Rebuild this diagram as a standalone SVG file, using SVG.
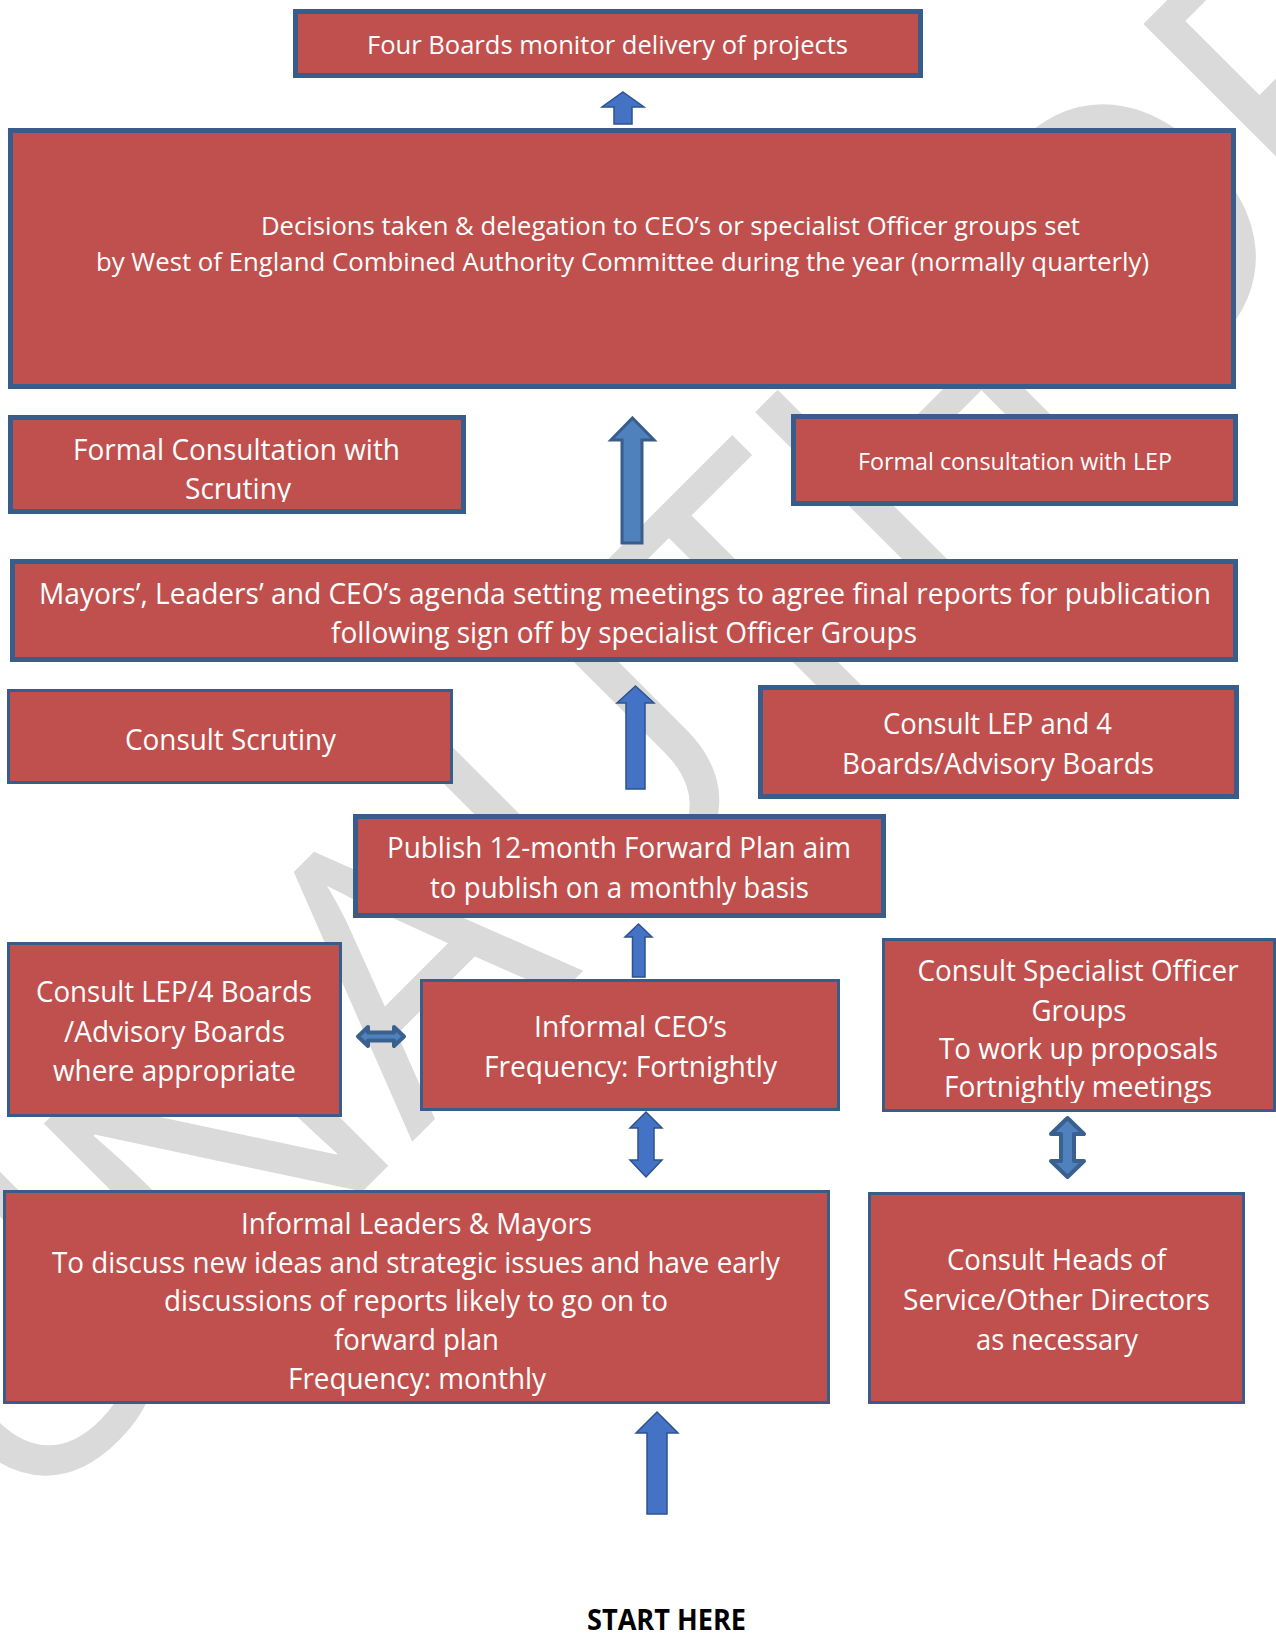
<svg xmlns="http://www.w3.org/2000/svg" width="1276" height="1635" viewBox="0 0 1276 1635">
<style>
.box{fill:#C0504D;stroke:#385D8A;stroke-width:5}
.thin{stroke-width:3}
.lbl{fill:#FFFFFF;font-family:"Open Sans","Noto Sans",sans-serif;text-anchor:middle}
.s32{font-size:28.5px}
.s29{font-size:26px}
.s27{font-size:23.8px}
.arr{fill:#4472C4;stroke:#2F528F;stroke-width:1.5;stroke-linejoin:miter}
.arr2{fill:#4F81BD;stroke:#385D8A;stroke-width:3}
.arr3{fill:#4F81BD;stroke:#3A6090;stroke-width:4;stroke-linejoin:round}
.start{fill:#000000;font-family:"Open Sans","Noto Sans",sans-serif;font-weight:bold;font-size:28.5px;text-anchor:middle}
.wm{fill:#DADADA;font-family:"Open Sans","Noto Sans",sans-serif;font-weight:400;font-size:383px}
</style>
<defs>
<clipPath id="clip3"><rect x="0" y="400" width="480" height="102"/></clipPath>
<clipPath id="clip11"><rect x="880" y="930" width="396" height="173"/></clipPath>
</defs>
<rect x="0" y="0" width="1276" height="1635" fill="#FFFFFF"/>

<g id="watermark">
<text class="wm" transform="translate(20.5,1533.5) rotate(-45)" x="-3 269 554 795 1073 1275 1539 1824 2043 2159 2359 2558" y="0">UNAUTHORISED</text>
</g>

<g id="connectors">
<path class="arr" d="M623,92 L644,107 L632,107 L632,124 L614,124 L614,107 L602,107 Z"/>
<path class="arr2" d="M632.5,418 L654,440 L642,440 L642,543 L622,543 L622,440 L611,440 Z"/>
<path class="arr" d="M635.5,686 L654,703 L645,703 L645,789 L626,789 L626,703 L617,703 Z"/>
<path class="arr" d="M638.5,924 L652,937 L645,937 L645,977 L632.5,977 L632.5,937 L625,937 Z"/>
<path class="arr3" d="M358,1036.5 L368,1027 L368,1032.5 L394,1032.5 L394,1027 L404,1036.5 L394,1046 L394,1040.5 L368,1040.5 L368,1046 Z"/>
<path class="arr" d="M646,1112 L662,1128 L654,1128 L654,1160 L662,1160 L646,1177 L630,1160 L638,1160 L638,1128 L630,1128 Z"/>
<path class="arr3" d="M1067.5,1118 L1084,1134 L1074,1134 L1074,1161 L1084,1161 L1067.5,1177 L1051,1161 L1061,1161 L1061,1134 L1051,1134 Z"/>
<path class="arr" d="M657,1412 L678,1433 L667,1433 L667,1514 L647,1514 L647,1433 L636,1433 Z"/>
</g>

<g id="n-four-boards">
<rect class="box" x="295.5" y="11.5" width="625" height="64"/>
<text class="lbl s29" x="607.5" y="54" textLength="481" lengthAdjust="spacingAndGlyphs">Four Boards monitor delivery of projects</text>
</g>

<g id="n-decisions">
<rect class="box" x="10.5" y="130.5" width="1223" height="256"/>
<text class="lbl s29" x="670.5" y="235" textLength="819" lengthAdjust="spacingAndGlyphs">Decisions taken &amp; delegation to CEO’s or specialist Officer groups set</text>
<text class="lbl s29" x="622.5" y="271" textLength="1053" lengthAdjust="spacingAndGlyphs">by West of England Combined Authority Committee during the year (normally quarterly)</text>
</g>

<g id="n-formal-scrutiny">
<rect class="box" x="10.5" y="417.5" width="453" height="94"/>
<g clip-path="url(#clip3)">
<text class="lbl s32" x="236.5" y="460" textLength="327" lengthAdjust="spacingAndGlyphs">Formal Consultation with</text>
<text class="lbl s32" x="238" y="499" textLength="106" lengthAdjust="spacingAndGlyphs">Scrutiny</text>
</g>
</g>

<g id="n-formal-lep">
<rect class="box" x="793.5" y="416.5" width="442" height="87"/>
<text class="lbl s27" x="1015" y="470" textLength="314" lengthAdjust="spacingAndGlyphs">Formal consultation with LEP</text>
</g>

<g id="n-agenda">
<rect class="box" x="12.5" y="561.5" width="1223" height="98"/>
<text class="lbl s32" x="625" y="604" textLength="1172" lengthAdjust="spacingAndGlyphs">Mayors’, Leaders’ and CEO’s agenda setting meetings to agree final reports for publication</text>
<text class="lbl s32" x="624" y="643" textLength="586" lengthAdjust="spacingAndGlyphs">following sign off by specialist Officer Groups</text>
</g>

<g id="n-consult-scrutiny">
<rect class="box thin" x="8.5" y="690.5" width="443" height="92"/>
<text class="lbl s32" x="230.5" y="750" textLength="211" lengthAdjust="spacingAndGlyphs">Consult Scrutiny</text>
</g>

<g id="n-consult-lep">
<rect class="box" x="760.5" y="687.5" width="476" height="109"/>
<text class="lbl s32" x="997.5" y="734" textLength="229" lengthAdjust="spacingAndGlyphs">Consult LEP and 4</text>
<text class="lbl s32" x="998" y="774" textLength="312" lengthAdjust="spacingAndGlyphs">Boards/Advisory Boards</text>
</g>

<g id="n-publish">
<rect class="box" x="355.5" y="816.5" width="528" height="99"/>
<text class="lbl s32" x="619" y="858" textLength="464" lengthAdjust="spacingAndGlyphs">Publish 12-month Forward Plan aim</text>
<text class="lbl s32" x="619.5" y="898" textLength="379" lengthAdjust="spacingAndGlyphs">to publish on a monthly basis</text>
</g>

<g id="n-consult-lep4">
<rect class="box thin" x="8.5" y="943.5" width="332" height="172"/>
<text class="lbl s32" x="174" y="1002" textLength="276" lengthAdjust="spacingAndGlyphs">Consult LEP/4 Boards</text>
<text class="lbl s32" x="174.5" y="1042" textLength="221" lengthAdjust="spacingAndGlyphs">/Advisory Boards</text>
<text class="lbl s32" x="174.5" y="1081" textLength="243" lengthAdjust="spacingAndGlyphs">where appropriate</text>
</g>

<g id="n-informal-ceos">
<rect class="box thin" x="421.5" y="980.5" width="417" height="129"/>
<text class="lbl s32" x="630.5" y="1037" textLength="193" lengthAdjust="spacingAndGlyphs">Informal CEO’s</text>
<text class="lbl s32" x="630.5" y="1077" textLength="293" lengthAdjust="spacingAndGlyphs">Frequency: Fortnightly</text>
</g>

<g id="n-specialist">
<rect class="box thin" x="883.5" y="939.5" width="391" height="171"/>
<g clip-path="url(#clip11)">
<text class="lbl s32" x="1078" y="981" textLength="321" lengthAdjust="spacingAndGlyphs">Consult Specialist Officer</text>
<text class="lbl s32" x="1079" y="1021" textLength="95" lengthAdjust="spacingAndGlyphs">Groups</text>
<text class="lbl s32" x="1078.5" y="1059" textLength="279" lengthAdjust="spacingAndGlyphs">To work up proposals</text>
<text class="lbl s32" x="1078" y="1097" textLength="268" lengthAdjust="spacingAndGlyphs">Fortnightly meetings</text>
</g>
</g>

<g id="n-informal-leaders">
<rect class="box thin" x="4.5" y="1191.5" width="824" height="211"/>
<text class="lbl s32" x="416.5" y="1234" textLength="351" lengthAdjust="spacingAndGlyphs">Informal Leaders &amp; Mayors</text>
<text class="lbl s32" x="416" y="1273" textLength="728" lengthAdjust="spacingAndGlyphs">To discuss new ideas and strategic issues and have early</text>
<text class="lbl s32" x="416" y="1311" textLength="504" lengthAdjust="spacingAndGlyphs">discussions of reports likely to go on to</text>
<text class="lbl s32" x="416.5" y="1350" textLength="165" lengthAdjust="spacingAndGlyphs">forward plan</text>
<text class="lbl s32" x="417" y="1389" textLength="258" lengthAdjust="spacingAndGlyphs">Frequency: monthly</text>
</g>

<g id="n-heads">
<rect class="box thin" x="869.5" y="1193.5" width="374" height="209"/>
<text class="lbl s32" x="1056.5" y="1270" textLength="219" lengthAdjust="spacingAndGlyphs">Consult Heads of</text>
<text class="lbl s32" x="1056.5" y="1310" textLength="307" lengthAdjust="spacingAndGlyphs">Service/Other Directors</text>
<text class="lbl s32" x="1057" y="1350" textLength="162" lengthAdjust="spacingAndGlyphs">as necessary</text>
</g>

<g id="n-start">
<text class="start" x="666.5" y="1630" textLength="159" lengthAdjust="spacingAndGlyphs">START HERE</text>
</g>
</svg>
